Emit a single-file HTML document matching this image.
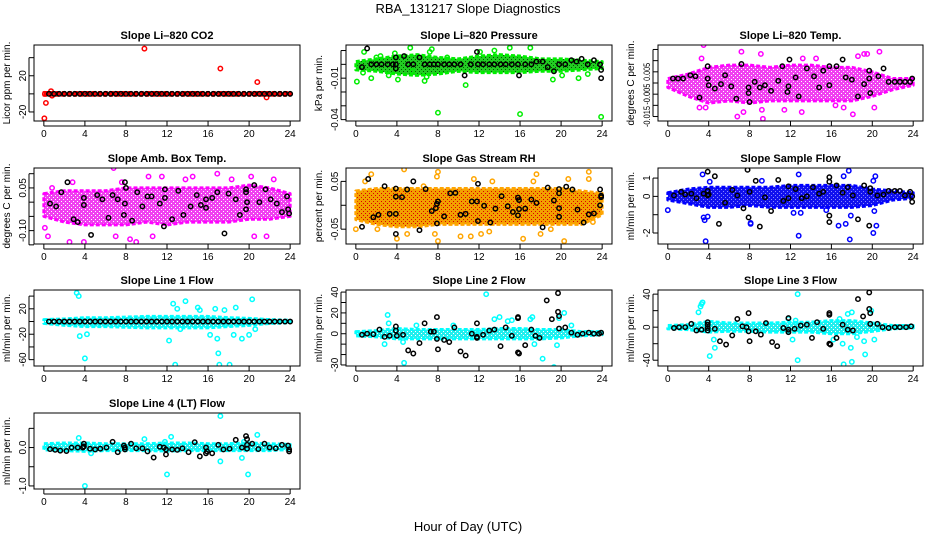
<!DOCTYPE html>
<html><head><meta charset="utf-8"><style>
body{margin:0;background:#fff;}
svg text{font-family:"Liberation Sans",sans-serif;}
</style></head><body>
<svg id="c" width="936" height="540" viewBox="0 0 936 540" xmlns="http://www.w3.org/2000/svg">
<rect width="936" height="540" fill="#fff"/>
<text x="468" y="13" text-anchor="middle" font-size="13">RBA_131217  Slope Diagnostics</text>
<text x="468" y="531" text-anchor="middle" font-size="13">Hour of Day (UTC)</text>
</svg>
<script>
const xTicks=[0,4,8,12,16,20,24];
const bandHours=[0,2,4,6,8,10,12,14,16,18,20,22,24];
const zeroHours=[0.5,1,1.5,2,2.5,3,3.5,4,4.5,5,5.5,6,6.5,7,7.5,8,8.5,9,9.5,10,10.5,11,11.5,12,12.5,13,13.5,14,14.5,15,15.5,16,16.5,17,17.5,18,18.5,19,19.5,20,20.5,21,21.5,22,22.5,23,23.5,24];
const zeroVals=[0,0,0,0,0,0,0,0,0,0,0,0,0,0,0,0,0,0,0,0,0,0,0,0,0,0,0,0,0,0,0,0,0,0,0,0,0,0,0,0,0,0,0,0,0,0,0,0];

// Panel 1: CO2
const co2Lo=[-1.5,-1.5,-1.5,-1.5,-1.5,-1.5,-1.5,-1.5,-1.5,-1.5,-1.5,-1.5,-1.5];
const co2Hi=[1.5,1.5,1.5,1.5,1.5,1.5,1.5,1.5,1.5,1.5,1.5,1.5,1.5];
const co2OutX=[0.05,0.2,0.1,0.7,0.8,9.8,17.2,20.8,21.7];
const co2OutY=[-27,-10,0,3,-2,50,28,13,-4];
// Panel 2: pressure
const presLo=[-0.004,-0.005,-0.007,-0.008,-0.007,-0.005,-0.006,-0.006,-0.006,-0.005,-0.005,-0.004,-0.003];
const presHi=[0.002,0.004,0.006,0.007,0.005,0.004,0.006,0.007,0.006,0.004,0.004,0.003,0.002];
const presOutX=[0.1,0.7,0.8,1.5,2.4,3.2,3.8,4.1,5.3,5.5,6.7,6.9,7.2,7.4,8.0,10.7,12.1,13.5,15.0,16.0,17.0,19.2,20.1,21.7,23.9,22.6,2.0,8.9];
const presOutY=[-0.0125,-0.006,0.009,-0.01,0.006,-0.008,0.008,-0.011,0.012,-0.005,-0.012,-0.009,0.009,0.011,-0.035,-0.015,0.009,0.01,0.012,-0.036,0.012,-0.011,-0.008,-0.01,-0.038,-0.007,0.005,0.005];
const presBlkX=[0.6,1.1,1.5,2.0,2.5,3.1,3.6,3.9,3.9,3.9,4.7,5.1,5.6,6.2,6.7,7.2,7.6,8.0,8.6,9.1,9.6,10.2,10.6,11.2,11.8,11.9,12.4,13.0,13.5,14.1,14.6,15.2,15.8,15.9,16.5,17.1,17.6,18.2,18.7,19.3,19.8,20.4,21.0,21.5,22.0,22.6,23.2,23.8,23.9,23.9];
const presBlkY=[-0.002,0.0115,0,0,0,0,0,0.005,0,-0.003,0.006,0,0,0.005,0,0,0,0,0,0,0,0,-0.008,0,0.009,0,0,0,0,0,0,0,0,-0.008,0,0,0.002,0.002,-0.002,-0.005,0,0,0.003,0.002,0.004,0,0.003,0,-0.004,-0.01];
// Panel 3: Li-820 temp
const tempLo=[-0.002,-0.006,-0.009,-0.008,-0.009,-0.008,-0.008,-0.008,-0.008,-0.008,-0.006,-0.003,-0.001];
const tempHi=[0.002,0.004,0.007,0.008,0.008,0.007,0.008,0.008,0.007,0.007,0.005,0.002,0.002];
const tempOutX=[3.1,3.7,3.5,3.3,6.8,7.2,7.4,9.3,9.2,9.1,11.4,13.1,13.2,14.5,16.4,17.2,18.1,18.6,19.5,20.2,20.7,19.2];
const tempOutY=[-0.011,-0.011,0.017,0.011,-0.015,0.014,-0.013,-0.016,-0.012,0.013,-0.012,-0.013,0.011,0.011,-0.01,-0.011,-0.014,0.012,0.013,-0.011,0.014,0.013];
const tempBlkX=[0.5,1,1.5,2.2,2.7,3.1,3.9,3.9,4.0,4.6,5.2,5.6,6.2,6.7,7.2,7.9,7.9,8.0,8.5,9.0,9.5,10.1,10.8,11.2,11.7,11.8,11.9,12.5,12.8,13.6,14.3,14.8,15.2,15.8,15.8,16.5,17.1,17.4,18.0,18.6,19.2,19.7,19.7,19.8,20.6,21.1,21.6,22.2,22.7,23.2,23.7,23.9];
const tempBlkY=[0.002,0.002,0.002,0.0035,0.003,-0.0065,0.0075,0.002,-0.001,-0.0025,-0.0005,0.0035,-0.0015,-0.007,0.0085,-0.002,-0.0045,-0.0085,0.0005,-0.002,-0.001,-0.0035,0.001,0.0075,-0.004,-0.0015,0.0105,0.0025,-0.006,0.0065,0.003,-0.002,0.0055,0.0075,-0.001,0.0075,0.0105,0.0025,0.0015,-0.006,-0.0005,0.0055,0.002,-0.0045,0.003,0.0065,0.0005,0.0005,0.0005,0.0005,0.0005,0.002];
// Panel 4: amb box temp
const ambLo=[-0.05,-0.07,-0.08,-0.08,-0.08,-0.07,-0.08,-0.07,-0.07,-0.07,-0.06,-0.06,-0.05];
const ambHi=[0.03,0.04,0.04,0.04,0.05,0.05,0.05,0.05,0.05,0.05,0.06,0.05,0.03];
const ambOutX=[0.1,0.4,0.8,2.5,2.8,3.9,5.1,6.8,7.0,7.6,8.3,8.4,9.0,10.2,10.6,11.5,11.9,12.4,13.0,13.8,14.5,16.2,16.7,16.9,18.3,19.2,20.2,20.5,21.7,22.4];
const ambOutY=[-0.09,-0.12,0.05,-0.14,0.07,-0.14,-0.22,0.12,-0.12,0.07,-0.16,-0.13,-0.14,0.09,-0.12,0.09,-0.2,-0.18,-0.16,0.08,0.09,-0.17,-0.17,0.1,0.08,-0.19,0.09,-0.12,-0.12,0.08];
const ambBlkX=[0.6,1.2,1.7,2.3,2.9,3.3,3.9,3.9,4.6,5.2,5.7,6.3,6.7,7.2,7.9,8.0,7.9,7.8,8.6,9.1,9.6,10.1,10.5,11.3,11.8,11.8,11.7,12.5,13.1,13.6,14.3,14.9,15.3,15.8,15.8,16.4,16.9,17.6,18.0,18.7,19.1,19.7,19.7,19.8,19.7,20.5,21.0,21.6,22.1,22.7,23.2,23.7,23.8,23.9];
const ambBlkY=[-0.005,-0.015,0.035,0.07,-0.06,-0.07,0.015,-0.01,-0.115,0.025,0.01,-0.055,0.025,0.01,0.07,0.05,-0.005,-0.045,-0.065,0.035,-0.015,0.02,0.02,-0.005,0.045,0.015,-0.085,-0.06,0.04,-0.045,-0.015,0.025,-0.01,0.01,-0.02,0.015,0.035,-0.11,0.03,0.01,-0.045,0.045,0.035,0,-0.025,0.06,0,0.045,0.01,-0.005,-0.035,0.02,-0.025,-0.04];
// Panel 5: RH
const rhLo=[-0.03,-0.04,-0.045,-0.045,-0.04,-0.04,-0.04,-0.04,-0.04,-0.04,-0.04,-0.04,-0.02];
const rhHi=[0.03,0.035,0.035,0.035,0.035,0.035,0.035,0.035,0.035,0.035,0.035,0.03,0.025];
const rhOutX=[0.0,0.9,1.5,2.1,4.0,4.7,5.0,6.6,7.7,7.9,8.0,8.0,10.2,11.2,11.5,12.2,13.0,13.3,16.3,17.3,17.6,18.0,19.0,20.3,20.7,22.7,22.7,23.1];
const rhOutY=[-0.05,0.05,0.065,-0.05,-0.07,0.075,-0.06,0.04,-0.06,0.06,0.07,-0.075,-0.065,-0.065,0.055,-0.06,-0.055,0.05,-0.07,0.05,0.065,-0.06,-0.05,-0.075,0.055,0.07,0.055,-0.035];
const rhBlkX=[0.6,1.2,1.7,2.2,2.8,3.3,3.9,3.9,3.9,3.9,4.5,5.0,5.6,6.2,6.8,7.4,7.8,7.9,8.0,7.9,8.6,9.2,9.7,10.2,10.7,11.3,11.8,11.9,11.9,12.5,13.1,13.6,14.2,14.8,15.3,15.8,15.9,15.9,15.8,16.5,17.1,17.6,18.2,18.7,19.3,19.8,19.8,19.8,19.8,20.5,21.1,21.6,22.2,22.7,23.2,23.8,23.9,23.9,23.8];
const rhBlkY=[-0.045,0.055,-0.025,-0.02,0.04,-0.018,0.035,0.018,-0.018,-0.06,0.017,0.033,0.05,-0.052,0.034,-0.012,-0.006,0.003,0.008,-0.038,-0.023,0.025,0.026,-0.02,-0.018,0.008,0.008,0.045,-0.033,-0.001,-0.036,-0.007,0.019,-0.002,-0.014,0.016,0.011,-0.008,-0.021,-0.007,0.012,0.005,-0.046,0.037,0.01,0.034,0.025,-0.006,-0.024,0.039,0.033,-0.009,-0.036,-0.019,-0.017,0.033,0.02,0.017,0];
// Panel 6: sample flow
const sfLo=[-0.2,-0.4,-0.6,-0.6,-0.5,-0.6,-0.6,-0.6,-0.6,-0.6,-0.5,-0.2,-0.1];
const sfHi=[0.2,0.4,0.5,0.5,0.5,0.5,0.6,0.6,0.6,0.6,0.4,0.3,0.2];
const sfOutX=[0,3.4,3.5,3.6,3.7,3.9,4.1,9.2,12.3,12.8,12.8,13.0,15.5,16.7,17.2,17.4,17.7,17.8,17.9,20.1,20.2,20.4,20.3,20.1,8.1,8.1];
const sfOutY=[-0.75,1.2,-1.15,-1.3,-2.45,-1.1,0.8,0.85,-0.9,1.2,-2.15,-0.9,-0.75,-1.6,1.1,-1.5,1.4,-2.35,-1.05,-2.0,-0.8,-1.6,1.1,0.85,-1.5,-1.45];
const sfBlkX=[0.6,1.3,1.7,2.3,2.8,3.5,3.9,3.9,3.9,4.0,4.6,5.0,5.6,6.3,6.8,7.4,7.8,7.9,8.0,8.6,9.0,9.5,10.1,10.8,11.3,11.8,11.8,12.5,13.1,13.6,14.2,14.8,15.2,15.8,15.8,15.8,15.8,16.5,17.1,17.6,18.1,18.6,19.2,19.8,19.8,19.7,20.5,21.1,21.6,22.2,22.7,23.2,23.7,23.9,23.9];
const sfBlkY=[0.05,0.25,0.1,0.15,-0.1,0.15,1.35,0.3,0.05,0.1,1.1,-1.5,-0.35,0.35,0.05,-0.65,1.45,-1.15,0.25,0.85,-1.65,-0.05,-0.8,0.9,-0.25,0.55,-0.1,0.4,-0.1,0,0.5,0.15,0.25,1.05,0.8,-1.05,-1.4,0.6,0.2,0.5,0.05,-1.25,0.6,0.45,0.25,-1.6,0.05,0.1,0.3,0.3,0.3,0.05,0.25,0,-0.3];
// Panel 7: Line 1
const l1Lo=[-3,-6,-8,-8,-9,-10,-10,-10,-10,-8,-6,-3,-2];
const l1Hi=[3,4,6,6,7,8,8,8,8,6,5,3,2];
const l1OutX=[3.2,3.4,3.5,4.0,4.2,12.2,12.6,12.8,13.0,13.3,13.8,15.0,15.2,16.2,16.7,16.9,17.0,17.1,17.6,18.1,18.5,18.7,19.3,20.0,20.3,20.6];
const l1OutY=[45,40,-23,-58,-20,-30,28,-68,20,-12,32,22,18,-21,20,-27,-50,-68,18,-68,-21,22,-27,-21,35,-12];
// Panel 8: Line 2
const l2Lo=[-2,-3,-5,-5,-5,-5,-5,-5,-5,-5,-4,-2,-1];
const l2Hi=[2,3,5,4,4,4,4,5,5,4,4,2,2];
const l2OutX=[3.1,3.2,2.8,4.7,4.6,5.9,12.7,13.5,14.0,14.8,15.2,17.0,17.2,17.4,18.2,19.3,19.6,19.8,20.3,21.0,11.8,9.5];
const l2OutY=[18,10,-10,-28,-8,8,38,14,16,12,13,14,16,-10,-24,-32,-11,15,20,8,2,8];
const l2BlkX=[0.6,1.1,1.7,2.3,2.8,3.3,3.9,3.9,4.0,4.6,5.1,5.6,6.2,6.7,7.3,7.6,7.9,8.0,7.9,8.6,9.1,9.6,10.2,10.7,11.3,11.8,11.8,11.8,12.4,13.0,13.5,14.1,14.6,15.2,15.8,15.8,15.8,15.9,16.5,17.1,17.5,17.9,18.6,19.1,19.7,19.7,19.8,19.8,20.4,21.0,21.6,22.1,22.7,23.2,23.7,23.9];
const l2BlkY=[-1,0,-0.5,4,-3,-2,7,3,-2,-1,-16,-19,-9,10,2,2,16,-15,-5,-6,-8,6,-17,-21,0,10,-3,-4,-1,3,4,-12,6,-2,16,15,-18,-19,-11,4,-2,-4,32,14,39,21,17,5,6,1,-1,0,1,0,0,1];
// Panel 9: Line 3
const l3Lo=[-2,-3,-6,-5,-5,-6,-6,-6,-8,-8,-5,-2,-1];
const l3Hi=[2,3,7,5,5,5,6,6,8,8,5,2,2];
const l3OutX=[3.2,3.3,3.4,3.0,4.1,4.6,4.5,12.7,12.7,12.2,16.2,16.8,17.1,17.2,17.9,18.0,18.5,19.2,19.3,19.9,20.2,17.6,18.0,11.8,12.5];
const l3OutY=[25,28,30,18,-35,-25,-15,40,-40,-15,-15,10,-20,-45,-25,-42,-12,-17,-33,20,-15,16,18,10,8];
const l3BlkX=[0.6,1.1,1.7,2.3,2.8,3.3,3.9,3.9,3.9,3.9,4.6,5.1,5.7,6.3,6.8,7.3,7.7,7.9,7.9,8.0,8.6,9.1,9.6,10.2,10.7,11.3,11.8,11.8,11.8,12.4,13.0,13.6,14.1,14.6,15.2,15.8,15.8,15.8,15.9,16.5,17.1,17.6,18.1,18.6,19.1,19.7,19.7,19.8,19.8,20.5,21.0,21.6,22.2,22.7,23.3,23.8];
const l3BlkY=[-1,0,0,4,-4,-3,6,3,-1,-4,-2,-17,-21,-10,10,1,0,17,-5,-17,-5,-9,5,-18,-23,-1,11,-3,-6,-2,2,3,-13,6,-2,17,15,-20,-21,-13,3,-3,-4,34,13,42,22,17,4,4,0,-1,0,0,0,1];
// Panel 10: Line 4 (LT)
const l4Lo=[-0.06,-0.08,-0.1,-0.08,-0.08,-0.08,-0.09,-0.08,-0.08,-0.08,-0.08,-0.08,-0.05];
const l4Hi=[0.1,0.12,0.12,0.1,0.1,0.1,0.12,0.12,0.1,0.1,0.12,0.1,0.08];
const l4OutX=[4.0,3.4,4.6,9.8,12.0,12.4,11.8,17.2,17.2,19.3,19.9,20.8,19.5];
const l4OutY=[-1.0,0.25,-0.15,0.22,-0.7,0.28,0.15,0.82,-0.36,-0.27,-0.7,0.33,0.15];
const l4BlkX=[0.6,1.1,1.6,2.2,2.7,3.3,3.8,3.9,3.9,4.5,5.0,5.5,6.1,6.7,7.2,7.8,7.9,7.9,8.5,9.0,9.6,10.1,10.7,11.3,11.7,11.9,11.9,12.5,13.0,13.5,14.1,14.7,15.2,15.8,15.8,15.9,16.4,17.0,17.5,18.1,18.7,19.3,19.7,19.8,19.8,19.8,20.3,20.9,21.5,22.0,22.6,23.2,23.8,23.9,23.9];
const l4BlkY=[-0.04,-0.06,-0.08,-0.09,0,0,0,0.1,0.03,-0.03,-0.05,-0.03,0,0.15,-0.12,0.05,0,-0.05,0.1,-0.02,-0.02,-0.1,-0.26,0.02,0,-0.18,-0.05,-0.05,-0.06,-0.02,-0.12,0.14,-0.23,-0.15,0,-0.1,-0.15,0.07,-0.05,-0.03,0.2,0,0.3,0.22,0.07,-0.03,0.1,-0.04,0.1,0,-0.02,0.07,0.05,-0.05,-0.1];

// tick values & labels
const co2Ticks=[-20,0,20,40], co2TickLabels=["-20","","20",""];
const presTicks=[-0.04,-0.03,-0.02,-0.01,0,0.01], presTickLabels=["-0.04","","","-0.01","",""];
const tempTicks=[-0.015,-0.01,-0.005,0,0.005,0.01,0.015], tempTickLabels=["-0.015","","-0.005","","0.005","",""];
const ambTicks=[-0.15,-0.1,-0.05,0,0.05,0.1], ambTickLabels=["","-0.10","","","0.05",""];
const rhTicks=[-0.05,0,0.05], rhTickLabels=["-0.05","","0.05"];
const sfTicks=[-2,-1,0,1], sfTickLabels=["-2","","0","1"];
const l1Ticks=[-60,-40,-20,0,20,40], l1TickLabels=["-60","","-20","","20",""];
const l2Ticks=[-30,-20,-10,0,10,20,30,40], l2TickLabels=["-30","","","0","","20","","40"];
const l3Ticks=[-40,-20,0,20,40], l3TickLabels=["-40","","0","","40"];
const l4Ticks=[-1,-0.5,0,0.5], l4TickLabels=["-1.0","","0.0",""];

const svg=document.getElementById('c');
const NS='http://www.w3.org/2000/svg';
function mk(tag,attrs,parent){const e=document.createElementNS(NS,tag);for(const k in attrs)e.setAttribute(k,attrs[k]);(parent||svg).appendChild(e);return e;}

const cols=[[34,300],[346,612],[658,923]];
const rows=[[45,121],[168,244],[290,366],[413,489]];
const defs=mk('defs',{});

function panel(o){
  const [L,R]=cols[o.col],[T,B]=rows[o.row];
  const g=mk('g',{});
  
  
  const xs=v=>L+(v+0.96)/25.92*(R-L);
  const ys=v=>B-(v-o.ymin)/(o.ymax-o.ymin)*(B-T);
  const clip='cl'+o.name;
  const cp=mk('clipPath',{id:clip},g);mk('rect',{x:L,y:T,width:R-L,height:B-T},cp);
  const pid='pt'+o.name;
  const pat=mk('pattern',{id:pid,width:4,height:4,patternUnits:'userSpaceOnUse'},defs);
  mk('rect',{width:4,height:4,fill:o.fill},pat);
  mk('rect',{x:1,y:1,width:1,height:1,fill:o.speck},pat);
  mk('rect',{x:3,y:3,width:1,height:1,fill:o.speck},pat);
  const dg=mk('g',{'clip-path':'url(#'+clip+')'},g);
  let pts=bandHours.map((h,i)=>xs(h)+','+ys(o.hi[i]));
  for(let i=bandHours.length-1;i>=0;i--)pts.push(xs(bandHours[i])+','+ys(o.lo[i]));
  const band=mk('polygon',{points:pts.join(' '),fill:'url(#'+pid+')',stroke:o.color,'stroke-width':3,'stroke-dasharray':'4 2','stroke-linejoin':'round'},dg);
  
  
  o.ox.forEach((x,i)=>{const c=mk('circle',{cx:xs(x),cy:ys(o.oy[i]),r:2.2,fill:'none',stroke:o.color,'stroke-width':1.5},dg);
    
    });
  o.bx.forEach((x,i)=>{const c=mk('circle',{cx:xs(x),cy:ys(o.by[i]),r:2.2,fill:'none',stroke:'#000','stroke-width':1.5},dg);
    
    });
  mk('rect',{x:L,y:T,width:R-L,height:B-T,fill:'none',stroke:'#000','stroke-width':1},g);
  const t=mk('text',{x:(L+R)/2,y:T-6,'text-anchor':'middle','font-size':11,'font-weight':'bold'},g);t.textContent=o.title;
  
  
  xTicks.forEach(v=>{const x=xs(v);mk('line',{x1:x,x2:x,y1:B,y2:B+5,stroke:'#000'},g);
    const tx=mk('text',{x:x,y:B+16,'text-anchor':'middle','font-size':10},g);tx.textContent=v;});
  mk('line',{x1:xs(0),x2:xs(24),y1:B+5,y2:B+5,stroke:'#000'},g);
  const fs=o.tfs||10;
  o.ticks.forEach((v,i)=>{const y=ys(v);mk('line',{x1:L-5,x2:L,y1:y,y2:y,stroke:'#000'},g);
    if(o.tl[i]){const at={x:L-8,y:y,'text-anchor':'middle','font-size':fs,transform:`rotate(-90 ${L-8} ${y})`};
      if(o.tlen){at.textLength=o.tl[i].length>5?o.tlen:o.tlen-3;at.lengthAdjust='spacingAndGlyphs';}
      const tx=mk('text',at,g);tx.textContent=o.tl[i];}});
  mk('line',{x1:L-5,x2:L-5,y1:ys(o.ticks[0]),y2:ys(o.ticks[o.ticks.length-1]),stroke:'#000'},g);
  const yt=mk('text',{x:L-24,y:(T+B)/2,'text-anchor':'middle','font-size':10,transform:`rotate(-90 ${L-24} ${(T+B)/2})`},g);yt.textContent=o.ylab;
  
  
}
panel({name:'panel-co2',col:0,row:0,ymin:-30,ymax:54,title:'Slope Li\u2013820 CO2',ylab:'Licor ppm per min.',color:'#ff0000',fill:'#dd0000',speck:'#111',lo:co2Lo,hi:co2Hi,ox:co2OutX,oy:co2OutY,bx:zeroHours,by:zeroVals,ticks:co2Ticks,tl:co2TickLabels});
panel({name:'panel-pressure',col:1,row:0,ymin:-0.041,ymax:0.014,title:'Slope Li\u2013820 Pressure',ylab:'kPa per min.',color:'#00ee00',fill:'#22cc22',speck:'#005500',lo:presLo,hi:presHi,ox:presOutX,oy:presOutY,bx:presBlkX,by:presBlkY,ticks:presTicks,tl:presTickLabels});
panel({name:'panel-licor-temp',col:2,row:0,ymin:-0.017,ymax:0.017,title:'Slope Li\u2013820 Temp.',ylab:'degrees C per min.',color:'#ff00ff',fill:'#f040f0',speck:'#ffffff',lo:tempLo,hi:tempHi,ox:tempOutX,oy:tempOutY,bx:tempBlkX,by:tempBlkY,ticks:tempTicks,tl:tempTickLabels,tfs:9,tlen:21});
panel({name:'panel-amb-temp',col:0,row:1,ymin:-0.147,ymax:0.12,title:'Slope Amb. Box Temp.',ylab:'degrees C per min.',color:'#ff00ff',fill:'#f040f0',speck:'#ffffff',lo:ambLo,hi:ambHi,ox:ambOutX,oy:ambOutY,bx:ambBlkX,by:ambBlkY,ticks:ambTicks,tl:ambTickLabels});
panel({name:'panel-rh',col:1,row:1,ymin:-0.081,ymax:0.078,title:'Slope Gas Stream RH',ylab:'percent per min.',color:'#ffa500',fill:'#f2a000',speck:'#dd0000',lo:rhLo,hi:rhHi,ox:rhOutX,oy:rhOutY,bx:rhBlkX,by:rhBlkY,ticks:rhTicks,tl:rhTickLabels});
panel({name:'panel-sample-flow',col:2,row:1,ymin:-2.6,ymax:1.55,title:'Slope Sample Flow',ylab:'ml/min per min.',color:'#0000ff',fill:'#1111ee',speck:'#8888ff',lo:sfLo,hi:sfHi,ox:sfOutX,oy:sfOutY,bx:sfBlkX,by:sfBlkY,ticks:sfTicks,tl:sfTickLabels});
panel({name:'panel-line1',col:0,row:2,ymin:-70,ymax:49.6,title:'Slope Line 1 Flow',ylab:'ml/min per min.',color:'#00ffff',fill:'#22eeee',speck:'#ffffff',lo:l1Lo,hi:l1Hi,ox:l1OutX,oy:l1OutY,bx:zeroHours,by:zeroVals,ticks:l1Ticks,tl:l1TickLabels});
panel({name:'panel-line2',col:1,row:2,ymin:-31,ymax:42,title:'Slope Line 2 Flow',ylab:'ml/min per min.',color:'#00ffff',fill:'#22eeee',speck:'#ffffff',lo:l2Lo,hi:l2Hi,ox:l2OutX,oy:l2OutY,bx:l2BlkX,by:l2BlkY,ticks:l2Ticks,tl:l2TickLabels});
panel({name:'panel-line3',col:2,row:2,ymin:-47,ymax:45,title:'Slope Line 3 Flow',ylab:'ml/min per min.',color:'#00ffff',fill:'#22eeee',speck:'#ffffff',lo:l3Lo,hi:l3Hi,ox:l3OutX,oy:l3OutY,bx:l3BlkX,by:l3BlkY,ticks:l3Ticks,tl:l3TickLabels});
panel({name:'panel-line4',col:0,row:3,ymin:-1.08,ymax:0.9,title:'Slope Line 4 (LT) Flow',ylab:'ml/min per min.',color:'#00ffff',fill:'#22eeee',speck:'#ffffff',lo:l4Lo,hi:l4Hi,ox:l4OutX,oy:l4OutY,bx:l4BlkX,by:l4BlkY,ticks:l4Ticks,tl:l4TickLabels});
</script>
</body></html>
